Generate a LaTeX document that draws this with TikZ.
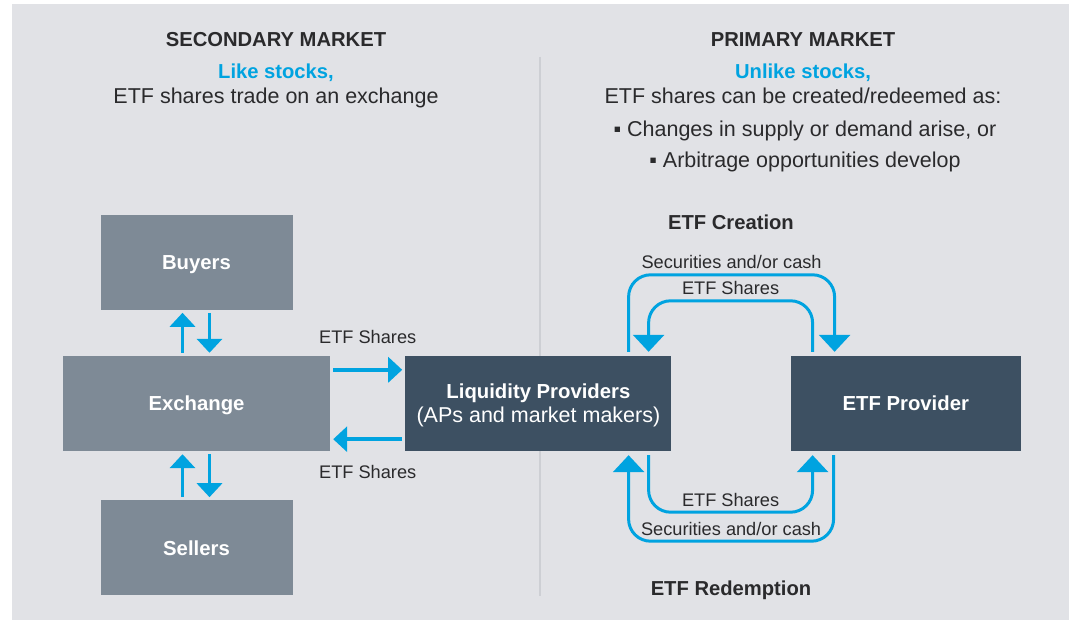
\documentclass[tikz,border=0pt]{standalone}
\usepackage{fontspec}
\setmainfont{Liberation Sans}
\usetikzlibrary{arrows.meta,positioning}
\definecolor{panel}{HTML}{E1E2E6}
\definecolor{rulegray}{HTML}{CDCFD4}
\definecolor{mktgray}{HTML}{7E8A96}
\definecolor{navy}{HTML}{3D5062}
\definecolor{sblue}{HTML}{00A3E0}
\definecolor{ink}{HTML}{2A2A2C}

\begin{document}
\begin{tikzpicture}[x=1pt,y=-1pt,
    box/.style={fill=#1,text=white,font=\fontsize{20.3}{21}\selectfont\bfseries,
        minimum height=95pt,inner sep=0pt,text height=14.6pt,text depth=0pt},
    head/.style={text=ink,font=\fontsize{20.2}{24}\selectfont\bfseries,anchor=base},
    sub/.style={text=sblue,font=\fontsize{20.2}{24}\selectfont\bfseries,anchor=base},
    body/.style={text=ink,font=\fontsize{21.5}{24}\selectfont,anchor=base},
    small/.style={text=ink,font=\fontsize{18.2}{22}\selectfont},
    trade/.style={draw=sblue,line width=3.5pt,-{Triangle[width=25pt,length=14pt]},
        shorten <=3pt,shorten >=3pt},
    flow/.style={draw=sblue,line width=3pt,-{Triangle[width=31pt,length=17pt]},
        rounded corners=22pt,shorten <=4pt,shorten >=4pt}]

    \fill[white] (0,0) rectangle (1069,620);
    \fill[panel] (12,4) rectangle (1069,620);
    \draw[rulegray,line width=2pt] (540,57) -- (540,596);

    \node[head] at (276,47) {SECONDARY MARKET};
    \node[sub] at (276,79) {Like stocks,};
    \node[body] at (276,104) {ETF shares trade on an exchange};
    \node[head] at (803,47) {PRIMARY MARKET};
    \node[sub] at (803,79) {Unlike stocks,};
    \node[body] at (803,104) {ETF shares can be created/redeemed as:};
    \node[body] at (805,137) {▪ Changes in supply or demand arise, or};
    \node[body] at (805,168) {▪ Arbitrage opportunities develop};

    \node[box=mktgray,minimum width=267pt] (ex) at (196.5,403.5) {Exchange};
    \node[box=mktgray,minimum width=192pt,above=46pt of ex] (by) {Buyers};
    \node[box=mktgray,minimum width=192pt,below=49pt of ex] (se) {Sellers};
    \node[box=navy,minimum width=266pt,right=75pt of ex,align=center,text height=37.6pt] (lp)
        {Liquidity Providers\\[3pt]{\mdseries\fontsize{21.5}{21}\selectfont(APs and market makers)}};
    \node[box=navy,minimum width=230pt,right=119pt of lp] (ep) {ETF Provider};

    \draw[trade] ([xshift=-14pt]ex.north) -- ([xshift=-14pt]by.south);
    \draw[trade] ([xshift=13pt]by.south) -- ([xshift=13pt]ex.north);
    \draw[trade] ([xshift=-14pt]se.north) -- ([xshift=-14pt]ex.south);
    \draw[trade] ([xshift=13pt]ex.south) -- ([xshift=13pt]se.north);

    \draw[trade] ([yshift=-14pt]ex.north east) -- node[small,above=21pt] {ETF Shares}
        ([yshift=-14pt]lp.north west);
    \draw[trade] ([yshift=12pt]lp.south west) -- node[small,below=21pt] {ETF Shares}
        ([yshift=12pt]ex.south east);

    \node[head] at (731,230) {ETF Creation};
    \draw[flow] ([xshift=-43pt]lp.north east) -- ++(0,-81)
        -| node[small,pos=0.25,above=1pt] {Securities and/or cash} ([xshift=44pt]ep.north west);
    \draw[flow] ([xshift=22pt]ep.north west) -- ++(0,-55)
        -| node[small,pos=0.25,above=1pt] {ETF Shares} ([xshift=-23pt]lp.north east);

    \draw[flow] ([xshift=-23pt]lp.south east) -- ++(0,61)
        -| node[small,pos=0.25,above=1pt] {ETF Shares} ([xshift=22pt]ep.south west);
    \draw[flow] ([xshift=43pt]ep.south west) -- ++(0,90)
        -| node[small,pos=0.25,above=1pt] {Securities and/or cash} ([xshift=-43pt]lp.south east);
    \node[head] at (731,595) {ETF Redemption};
\end{tikzpicture}
\end{document}
